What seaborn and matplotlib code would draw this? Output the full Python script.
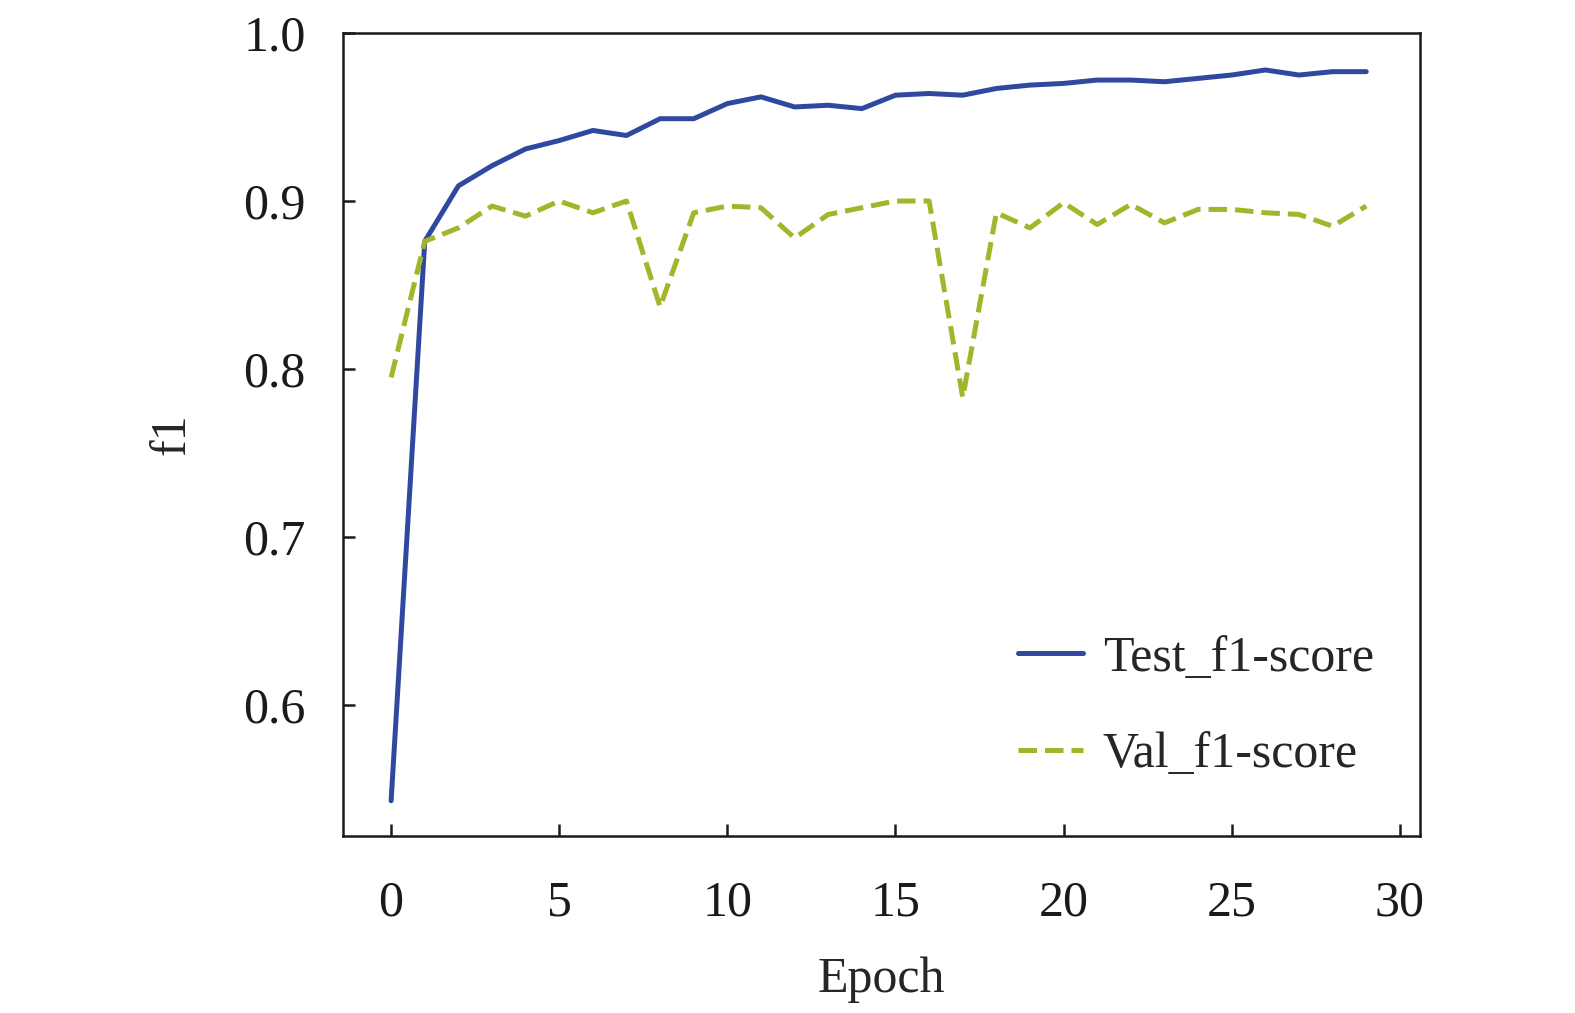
import numpy as np
import pandas as pd
import matplotlib
matplotlib.use("Agg")
import matplotlib.pyplot as plt
import seaborn as sns

epochs = list(range(30))
test_f1 = [0.543, 0.876, 0.909, 0.921, 0.931, 0.936, 0.942, 0.939, 0.949, 0.949,
           0.958, 0.962, 0.956, 0.957, 0.955, 0.963, 0.964, 0.963, 0.967, 0.969,
           0.970, 0.972, 0.972, 0.971, 0.973, 0.975, 0.978, 0.975, 0.977, 0.977]
val_f1 = [0.795, 0.876, 0.884, 0.897, 0.891, 0.900, 0.893, 0.900, 0.837, 0.893,
          0.897, 0.896, 0.878, 0.892, 0.896, 0.900, 0.900, 0.783, 0.893, 0.884,
          0.899, 0.886, 0.898, 0.887, 0.895, 0.895, 0.893, 0.892, 0.885, 0.897]

df = pd.DataFrame({"Epoch": epochs, "Test_f1-score": test_f1, "Val_f1-score": val_f1})

sns.set_style("white")
plt.rcParams['font.family'] = ['Liberation Serif', 'DejaVu Serif']

fig = plt.figure(figsize=(15.75, 10.13), dpi=100)
ax = fig.add_axes([0.2178, 0.1747, 0.6838, 0.7927])

sns.lineplot(data=df, x="Epoch", y="Test_f1-score", ax=ax, color="#3049a0",
             linewidth=3.6, label="Test_f1-score")
sns.lineplot(data=df, x="Epoch", y="Val_f1-score", ax=ax, color="#a5b52b",
             linewidth=3.6, linestyle="--", dashes=(3.2, 1.7), label="Val_f1-score")

ax.set_xlim(-1.43, 30.6)
ax.set_ylim(0.522, 1.0)
ax.set_xticks([0, 5, 10, 15, 20, 25, 30])
ax.set_yticks([0.6, 0.7, 0.8, 0.9, 1.0])
ax.set_yticklabels(["0.6", "0.7", "0.8", "0.9", "1.0"])

for s in ax.spines.values():
    s.set_linewidth(1.8)
    s.set_color("#1a1a1a")

ax.tick_params(axis="both", direction="in", length=8.5, width=1.8, labelsize=36,
               colors="#1a1a1a", bottom=True, left=True, top=False, right=False)
ax.tick_params(axis="x", pad=32)
ax.tick_params(axis="y", pad=27)

ax.set_xlabel("Epoch", fontsize=36, labelpad=21)
ax.set_ylabel("f1", fontsize=36, labelpad=34)

ax.legend(loc="lower right", bbox_to_anchor=(0.999, 0.016), frameon=False, fontsize=36,
          handlelength=1.3, handletextpad=0.4, labelspacing=1.0)

fig.savefig("out.png", dpi=100)
